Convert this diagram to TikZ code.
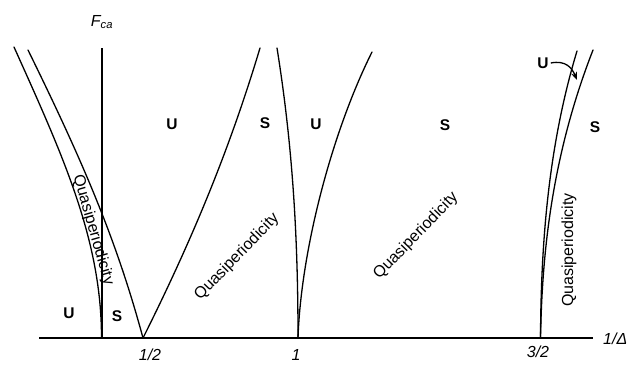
\documentclass[tikz,border=0pt]{standalone}
\usepackage{fontspec}
\setmainfont{Liberation Sans}
\usetikzlibrary{arrows.meta}
\begin{document}
\begin{tikzpicture}[x=1pt,y=-1pt,
  curve/.style={line width=1.3pt, line join=round, line cap=round},
  axisline/.style={line width=2pt},
  region/.style={font=\bfseries\fontsize{15.5}{16}\selectfont, inner sep=0pt},
  quasi/.style={font=\fontsize{16}{16}\selectfont, inner sep=0pt},
  tick/.style={font=\itshape\fontsize{16}{16}\selectfont, inner sep=0pt}]
\useasboundingbox (0,0) rectangle (628,367);
% axes
\coordinate (ox) at (39,338);
\coordinate (xe) at (593,338);
\coordinate (yb) at (101.5,338);
\coordinate (yt) at (101.5,48);
\draw[axisline] (ox) -- (xe);
\draw[axisline] (yb) -- (yt);
% points on the axis
\coordinate (ph) at (143,338);
\coordinate (p1) at (298,338);
\coordinate (p3) at (540.5,338);
% left band
\draw[curve] (14,47) .. controls (63.5,157) and (101.5,240) .. (yb);
\draw[curve] (28,50) .. controls (82,160) and (116,238) .. (ph);
% right branch from 1/2
\draw[curve] (ph) .. controls (193,238) and (230,148) .. (260,48);
% curves at 1
\draw[curve] (277,48) .. controls (293,148) and (298,240) .. (p1);
\draw[curve] (p1) .. controls (301,250) and (332,132) .. (372,52);
% curves at 3/2
\draw[curve] (577,51) .. controls (547,150) and (541,250) .. (p3);
\draw[curve] (593,50) .. controls (550,160) and (542,260) .. (p3);
% labels
\node[tick] (fca) at (102,22) {\textit{F}\textsubscript{\textit{ca}}};
\node[tick] (half) at (150,355) {1/2};
\node[tick] (one) at (296,355) {1};
\node[tick] (thalf) at (538,352) {3/2};
\node[tick, anchor=west] (invd) at (603,339) {1/Δ};
% regions
\node[region] (u1) at (172,124) {U};
\node[region] (s1) at (265,123) {S};
\node[region] (u2) at (316,124) {U};
\node[region] (s2) at (445,125) {S};
\node[region] (s3) at (595,127) {S};
\node[region] (u3) at (543,63) {U};
\node[region] (u4) at (69,313) {U};
\node[region] (s4) at (117,316) {S};
% quasiperiodicity
\node[quasi, rotate=-74] (qa) at (93,230) {Quasiperiodicity};
\node[quasi, rotate=46] (qb) at (237,257) {Quasiperiodicity};
\node[quasi, rotate=46] (qc) at (416,236) {Quasiperiodicity};
\node[quasi, rotate=90] (qd) at (569,250) {Quasiperiodicity};
% arrow
\coordinate (ah) at (577,80);
\draw[line width=1.3pt, -{Stealth[length=8pt,width=6pt]}] (u3.east) ++(2,0) .. controls (566,60) and (572,68) .. (ah);
\end{tikzpicture}
\end{document}
